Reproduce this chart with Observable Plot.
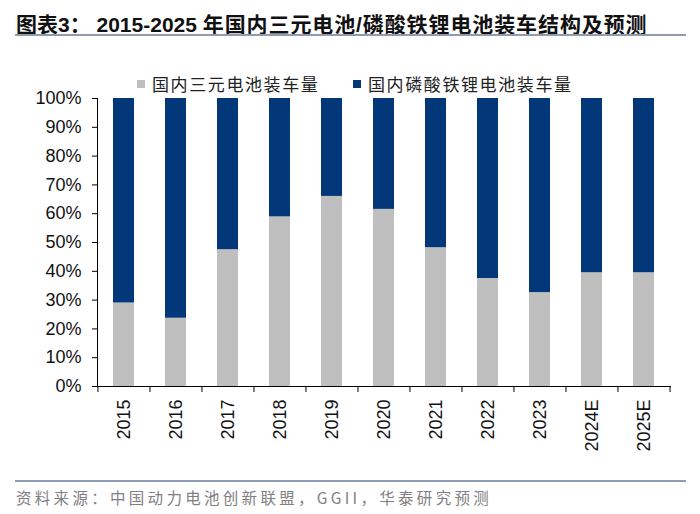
<!DOCTYPE html>
<html>
<head>
<meta charset="utf-8">
<script src="https://cdn.jsdelivr.net/npm/d3@7"></script>
<script src="https://cdn.jsdelivr.net/npm/@observablehq/plot@0.6"></script>
<style>
  html, body { margin: 0; padding: 0; background: #fff; }
  #wrap { position: relative; width: 700px; height: 514px; overflow: hidden; font-family: "Liberation Sans", Arial, "Noto Sans CJK SC", sans-serif; }
  #title { position: absolute; left: 16px; top: 8px; font-size: 21px; font-weight: bold; color: #111; white-space: nowrap; font-family: "Liberation Sans", Arial, "Noto Sans CJK SC", sans-serif; }
  #title .cjk { letter-spacing: 0.9px; }
  .rule { position: absolute; left: 15px; width: 671px; height: 2px; background: #8c9cb3; }
  #legend { position: absolute; top: 71px; left: 137px; font-family: "Noto Sans CJK SC", sans-serif; font-size: 17px; letter-spacing: 1.6px; color: #222; white-space: nowrap; }
  .li { position: absolute; top: 0; display: flex; align-items: center; }
  .sw { width: 8px; height: 8px; margin-right: 7px; }
  #chart { position: absolute; left: 0; top: 50px; }
  #caption { position: absolute; left: 16px; top: 486px; font-family: "Noto Sans CJK SC", sans-serif; font-size: 15.5px; letter-spacing: 3.3px; color: #808080; white-space: nowrap; }
</style>
</head>
<body>
<div id="wrap">
  <div id="title">图表3： 2015-2025 <span class="cjk">年国内三元电池/磷酸铁锂电池装车结构及预测</span></div>
  <div class="rule" style="top:34px"></div>
  <div id="legend"></div>
  <div id="chart"></div>
  <div class="rule" style="top:480px"></div>
  <div id="caption">资料来源：中国动力电池创新联盟，GGII，华泰研究预测</div>
</div>
<script>
const years = ["2015","2016","2017","2018","2019","2020","2021","2022","2023","2024E","2025E"];
const seriesNames = ["国内三元电池装车量", "国内磷酸铁锂电池装车量"];
const seriesColors = ["#bfbfbf", "#02377a"];
const ncmShare = [29.0, 23.7, 47.5, 58.9, 66.0, 61.5, 48.2, 37.5, 32.6, 39.5, 39.5];
const lfpShare = [71.0, 76.3, 52.5, 41.1, 34.0, 38.5, 51.8, 62.5, 67.4, 60.5, 60.5];
const yTicks = [0, 0.1, 0.2, 0.3, 0.4, 0.5, 0.6, 0.7, 0.8, 0.9, 1.0];

const rows = [];
years.forEach((y, i) => {
  rows.push({year: y, type: seriesNames[0], value: ncmShare[i] / 100});
  rows.push({year: y, type: seriesNames[1], value: lfpShare[i] / 100});
});

// legend
const legend = document.getElementById("legend");
const legendX = [0, 216];
seriesNames.forEach((n, i) => {
  const d = document.createElement("div");
  d.className = "li";
  d.style.left = legendX[i] + "px";
  d.innerHTML = `<span class="sw" style="background:${seriesColors[i]}"></span><span>${n}</span>`;
  legend.appendChild(d);
});

const W = 700, H = 420, mL = 97, mR = 30, mT = 48, mB = 84;
const step = (W - mL - mR) / years.length;

const chart = Plot.plot({
  width: W,
  height: H,
  marginLeft: mL,
  marginRight: mR,
  marginTop: mT,
  marginBottom: mB,
  style: {fontFamily: "'Liberation Sans', Arial, sans-serif", fontSize: "18px", color: "#111", background: "transparent"},
  x: {domain: years, paddingInner: 0.6, paddingOuter: 0.3, axis: null, label: null},
  y: {domain: [0, 1], axis: null, label: null},
  color: {domain: seriesNames, range: seriesColors},
  marks: [
    Plot.barY(rows, {x: "year", y: "value", fill: "type"}),
    Plot.axisY({ticks: yTicks, tickFormat: d3.format(".0%"), tickSize: 5, tickPadding: 11, fontSize: 18, stroke: "#000", fill: "#111", label: null}),
    Plot.axisX({tickSize: 0, tickPadding: 13, tickRotate: -90, fontSize: 18, fill: "#111", label: null}),
    Plot.axisX({tickSize: 6, tickFormat: () => "", dx: -step / 2, stroke: "#000", label: null}),
    Plot.axisX({ticks: [years[years.length - 1]], tickSize: 6, tickFormat: () => "", dx: step / 2, stroke: "#000", label: null}),
    Plot.frame({anchor: "left", stroke: "#000"}),
    Plot.frame({anchor: "bottom", stroke: "#000"})
  ]
});
document.getElementById("chart").appendChild(chart);
</script>
</body>
</html>
